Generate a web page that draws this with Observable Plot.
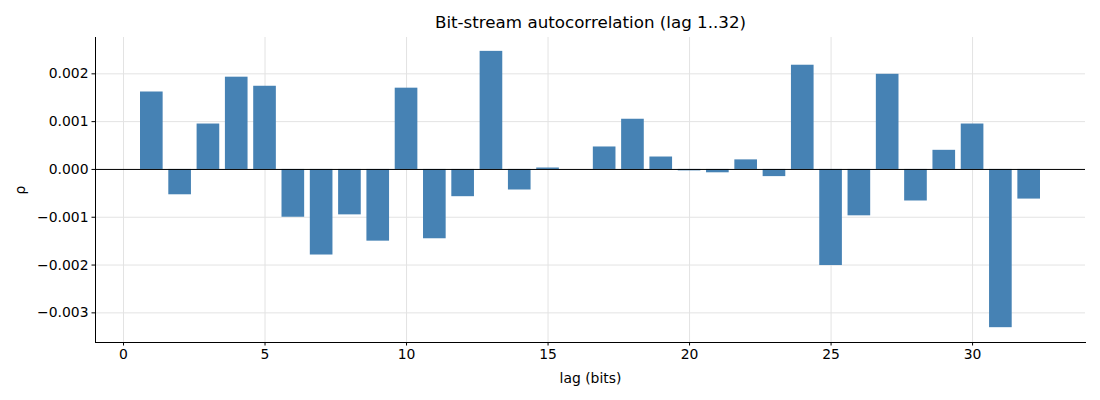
<!DOCTYPE html>
<html><head><meta charset="utf-8">
<script src="https://cdn.jsdelivr.net/npm/d3@7"></script>
<script src="https://cdn.jsdelivr.net/npm/@observablehq/plot@0.6"></script>
<style>body{margin:0;background:#fff;font-family:"DejaVu Sans",sans-serif}</style>
</head><body><div id="chart"></div>
<script>
const lags = d3.range(1, 33);
const rho = [0.00162, -0.00053, 0.00095, 0.00193, 0.00174, -0.00100, -0.00179, -0.00095,
  -0.00150, 0.00170, -0.00145, -0.00057, 0.00247, -0.00043, 0.00003, 0.00000,
  0.00047, 0.00105, 0.00026, -0.00003, -0.00007, 0.00020, -0.00015, 0.00218,
  -0.00201, -0.00097, 0.00199, -0.00066, 0.00040, 0.00095, -0.00331, -0.00062];
const xTicks = [0, 5, 10, 15, 20, 25, 30];
const yTicks = [-0.003, -0.002, -0.001, 0, 0.001, 0.002];
const title = "Bit-stream autocorrelation (lag 1..32)";

const data = lags.map((l, i) => ({lag: l, rho: rho[i]}));
const fmt = d => (d < 0 ? "\u2212" : "") + Math.abs(d).toFixed(3);

const chart = Plot.plot({
  width: 1100, height: 400,
  marginLeft: 95, marginRight: 15, marginTop: 37, marginBottom: 58,
  style: {fontFamily: "DejaVu Sans, sans-serif", fontSize: "13.9px", color: "#000", background: "#fff"},
  x: {domain: [-0.99, 33.99]},
  y: {domain: [-0.00362, 0.00276]},
  marks: [
    Plot.gridX(xTicks, {stroke: "#e3e3e3", strokeOpacity: 1}),
    Plot.gridY(yTicks, {stroke: "#e3e3e3", strokeOpacity: 1}),
    Plot.rectY(data, {x1: d => d.lag - 0.4, x2: d => d.lag + 0.4, y: "rho", fill: "#4682b4"}),
    Plot.ruleY([0], {stroke: "#000", strokeWidth: 1}),
    Plot.frame({anchor: "left", stroke: "#000"}),
    Plot.frame({anchor: "bottom", stroke: "#000"}),
    Plot.axisX({ticks: xTicks, tickSize: 3.5, tickPadding: 3.5, label: "lag (bits)", labelAnchor: "center", labelArrow: "none", labelOffset: 40, fontSize: 13.9}),
    Plot.axisY({ticks: yTicks, tickSize: 3.5, tickPadding: 3.5, tickFormat: fmt, label: "ρ", labelAnchor: "center", labelArrow: "none", labelOffset: 80, fontSize: 13.9}),
    Plot.text([title], {frameAnchor: "top", lineAnchor: "bottom", dy: -10, fontSize: 16.7, fill: "#000"})
  ]
});
document.getElementById("chart").appendChild(chart);
</script></body></html>
